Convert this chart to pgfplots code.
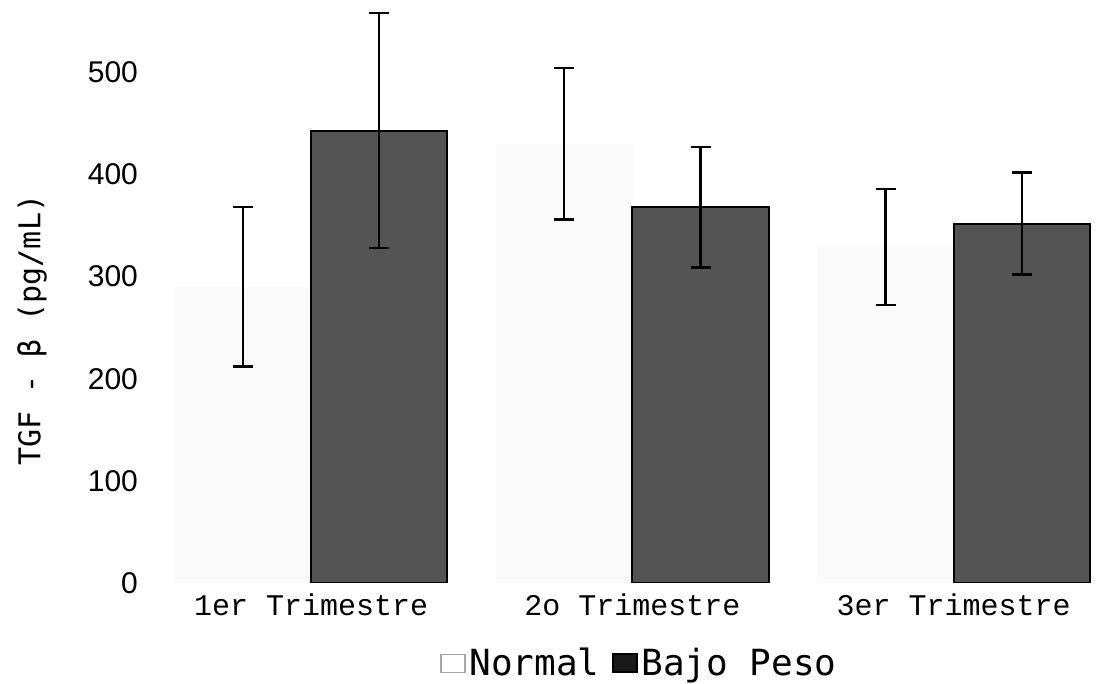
\documentclass[border=0pt]{standalone}
\usepackage{fontspec}
\setmainfont{Liberation Sans}
\newfontfamily\cour{Liberation Mono}
\newfontfamily\dmono{DejaVu Sans Mono}
\usepackage{pgfplots}
\pgfplotsset{compat=1.18}
\definecolor{bajo}{gray}{0.33}
\definecolor{normalfill}{gray}{0.98}

\begin{document}
\begin{tikzpicture}
\useasboundingbox (-86.5pt,-50.5pt) rectangle (464pt,291.5pt);
\begin{axis}[
    at={(0,0)}, anchor=south west,
    scale only axis,
    width=461pt, height=288.5pt,
    ybar, bar width=0.424,
    xmin=-0.43, xmax=2.44,
    ymin=0, ymax=565,
    axis line style={draw=none},
    major tick length=0pt,
    xtick={0,1,2},
    xticklabels={1er Trimestre, 2o Trimestre, 3er Trimestre},
    xticklabel style={font=\cour\fontsize{15}{15}\selectfont, yshift=-2pt},
    ytick={0,100,...,500},
    yticklabel style={font=\fontsize{15}{15}\selectfont, xshift=-14pt},
    /pgf/number format/assume math mode=true,
    ylabel={TGF - β (pg/mL)},
    ylabel style={font=\dmono\fontsize{15}{15}\selectfont,
        at={(axis description cs:-0.153,0.438)}, anchor=center},
    legend style={at={(axis description cs:0.507,-0.139)}, anchor=center,
        draw=none, fill=none, font=\dmono\fontsize{18}{18}\selectfont,
        /tikz/every even column/.append style={column sep=4pt}},
    legend columns=2,
    legend image code/.code={
        \draw[#1] (0pt,-4.5pt) rectangle (12pt,4.5pt);},
]
% Normal
\addplot+[bar shift=-0.212, fill=normalfill, draw=none,
    legend image post style={draw=gray!70, line width=0.6pt, fill=white},
    error bars/.cd, y dir=both, y explicit,
    error bar style={line width=1.1pt, black},
    error mark options={rotate=90, mark size=5pt, line width=1.1pt, black}]
    coordinates {(0,290) +- (0,78) (1,430) +- (0,74) (2,329) +- (0,57)};
% Bajo Peso
\addplot+[bar shift=0.212, fill=bajo, draw=black, line width=1pt,
    legend image post style={fill=black!90},
    error bars/.cd, y dir=both, y explicit,
    error bar style={line width=1.1pt, black},
    error mark options={rotate=90, mark size=5pt, line width=1.1pt, black}]
    coordinates {(0,443) +- (0,115) (1,368) +- (0,59) (2,352) +- (0,50)};
\legend{Normal, Bajo Peso}
\end{axis}
\end{tikzpicture}
\end{document}
